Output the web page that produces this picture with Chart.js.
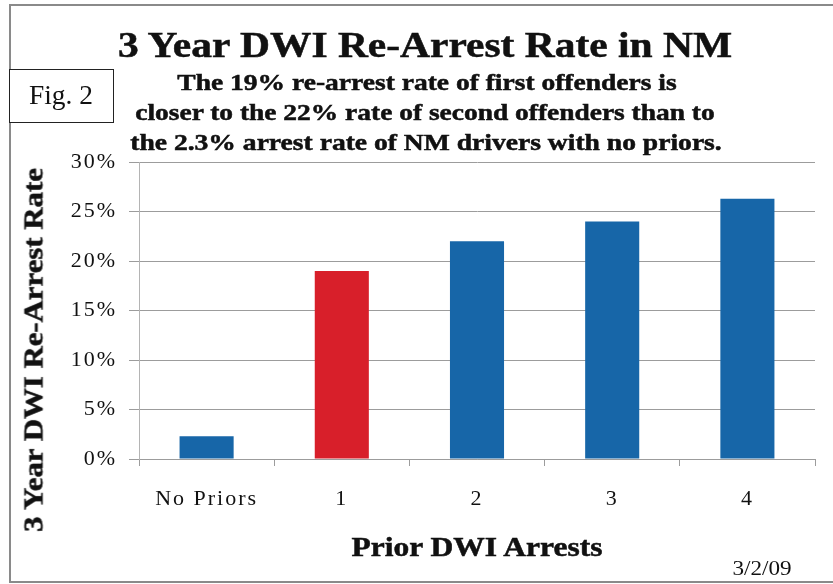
<!DOCTYPE html>
<html>
<head>
<meta charset="utf-8">
<script src="https://cdn.jsdelivr.net/npm/chart.js@4.4.1/dist/chart.umd.min.js"></script>
<style>
  html, body { margin: 0; padding: 0; background: #fff; overflow: hidden; }
  #page {
    position: relative; width: 833px; height: 584px; overflow: hidden;
    font-family: 'Liberation Serif', 'Times New Roman', serif; color: #111;
  }
  #frame {
    position: absolute; left: 9px; top: 4px; width: 900px; height: 575px;
    border: 2px solid #8a8a8a; border-right: none;
  }
  #chart { position: absolute; left: 0; top: 0; }
  .txt { position: absolute; white-space: nowrap; transform-origin: center center; }
  .heavy { font-weight: bold; -webkit-text-stroke: 0.5px #111; }
  .title { font-size: 36px; line-height: 36px; left: 425px; top: 27px; }
  .sub { font-size: 23px; line-height: 23px; }
  .axis-title { font-size: 27px; line-height: 27px; }
  #figbox {
    position: absolute; left: 9px; top: 69px; width: 105px; height: 54px;
    box-sizing: border-box; border: 1.5px solid #222; background: #fff;
  }
  .fig { font-size: 27px; line-height: 27px; left: 61px; top: 82px; }
  .date { font-size: 20px; line-height: 20px; left: 762px; top: 558px; }
</style>
</head>
<body>
<div id="page">
  <div id="frame"></div>
  <canvas id="chart" width="833" height="584"></canvas>

  <div class="txt heavy title" data-width="614">3 Year DWI Re-Arrest Rate in NM</div>
  <div class="txt heavy sub" style="left:427px; top:71px" data-width="500">The 19% re-arrest rate of first offenders is</div>
  <div class="txt heavy sub" style="left:425px; top:101px" data-width="580">closer to the 22% rate of second offenders than to</div>
  <div class="txt heavy sub" style="left:426px; top:131px" data-width="591">the 2.3% arrest rate of NM drivers with no priors.</div>

  <div id="figbox"></div>
  <div class="txt fig" data-width="64">Fig. 2</div>

  <div class="txt heavy axis-title" id="ytitle" style="left:34px; top:350px" data-width="364">3 Year DWI Re-Arrest Rate</div>
  <div class="txt heavy axis-title" style="left:477px; top:534px" data-width="251">Prior DWI Arrests</div>
  <div class="txt date" data-width="59">3/2/09</div>
</div>

<script>
const categories = ['No Priors', '1', '2', '3', '4'];
const reArrestRates = [2.3, 19, 22, 24, 26.3];   // percent re-arrested within 3 years
const rateTicks = [0, 5, 10, 15, 20, 25, 30];

const BLUE = '#1766a8';
const RED = '#d81f2a';
const GRID = '#9c9c9c';
const SERIF = "'Liberation Serif', 'Times New Roman', serif";
const firstOffenders = categories.indexOf('1');

// the serif lettering on the slide runs wide, so stretch each label to its box
function stretch(el) {
  const k = +el.dataset.width / el.offsetWidth;
  if (el.id === 'ytitle') {
    el.style.transform = `translate(-50%, -50%) rotate(-90deg) scaleX(${k.toFixed(3)})`;
  } else {
    el.style.transform = `translateX(-50%) scaleX(${k.toFixed(3)})`;
  }
}
document.querySelectorAll('.txt').forEach(stretch);

// widen tick lettering a little to the same look
const spacedTicks = {
  id: 'spacedTicks',
  beforeDraw(chart) { chart.ctx.letterSpacing = '2px'; }
};

new Chart(document.getElementById('chart'), {
  type: 'bar',
  data: {
    labels: categories,
    datasets: [{
      data: reArrestRates,
      backgroundColor: categories.map((_, i) => i === firstOffenders ? RED : BLUE),
      borderWidth: 0,
      categoryPercentage: 1,
      barPercentage: 0.4,
    }],
  },
  options: {
    responsive: false,
    animation: false,
    devicePixelRatio: 1,
    layout: { padding: { left: 0, top: 162, right: 18, bottom: 0 } },
    plugins: {
      legend: { display: false },
      tooltip: { enabled: false },
    },
    scales: {
      x: {
        grid: { drawOnChartArea: false, tickLength: 7, color: GRID, offset: true },
        border: { color: GRID },
        ticks: {
          color: '#111', padding: 20, maxRotation: 0, autoSkip: false,
          font: { family: SERIF, size: 22 },
        },
        afterFit(scale) { scale.height = 125; },
      },
      y: {
        min: rateTicks[0],
        max: rateTicks[rateTicks.length - 1],
        afterBuildTicks(scale) { scale.ticks = rateTicks.map(v => ({ value: v })); },
        grid: { color: GRID, tickLength: 10 },
        border: { color: '#b4b4b4' },
        ticks: {
          color: '#111', padding: 12,
          font: { family: SERIF, size: 22 },
          callback: v => v + '%',
        },
        afterFit(scale) { scale.width = 139; },
      },
    },
  },
  plugins: [spacedTicks],
});
</script>
</body>
</html>
